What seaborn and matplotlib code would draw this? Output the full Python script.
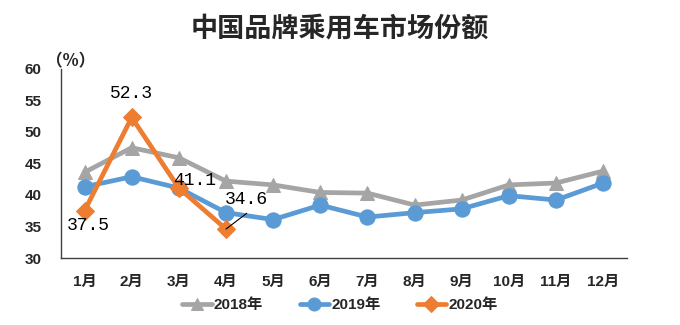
import matplotlib
matplotlib.use("Agg")
import matplotlib.pyplot as plt
import seaborn as sns
import pandas as pd

months = ["1月", "2月", "3月", "4月", "5月", "6月", "7月", "8月", "9月", "10月", "11月", "12月"]
share_2018 = [43.6, 47.5, 45.9, 42.2, 41.6, 40.4, 40.3, 38.4, 39.2, 41.6, 41.9, 43.8]
share_2019 = [41.3, 42.9, 41.1, 37.2, 36.1, 38.4, 36.5, 37.2, 37.8, 39.9, 39.2, 41.9]
share_2020 = [37.5, 52.3, 41.1, 34.6]
series_names = ["2018年", "2019年", "2020年"]
yticks = [30, 35, 40, 45, 50, 55, 60]

sns.set_theme(style="white")
plt.rcParams["font.family"] = ["Liberation Sans", "Noto Sans CJK SC", "DejaVu Sans"]

rows = []
for name, vals in zip(series_names, [share_2018, share_2019, share_2020]):
    for m, v in zip(months, vals):
        rows.append({"月份": m, "份额": v, "年份": name})
df = pd.DataFrame(rows)
df["月份"] = pd.Categorical(df["月份"], categories=months, ordered=True)
df["x"] = df["月份"].cat.codes

fig = plt.figure(figsize=(6.8, 3.25), dpi=100)
ax = fig.add_axes([0.0897, 0.206, 0.832, 0.582])

palette = {"2018年": "#A5A5A5", "2019年": "#5B9BD5", "2020年": "#ED7D31"}
markers = {"2018年": "^", "2019年": "o", "2020年": "D"}
sizes = {"2018年": 10.5, "2019年": 11, "2020年": 9}

for name in series_names:
    sub = df[df["年份"] == name]
    sns.lineplot(data=sub, x="x", y="份额", ax=ax, color=palette[name],
                 marker=markers[name], markersize=sizes[name],
                 markeredgecolor=palette[name], linewidth=3.4, label=name,
                 zorder=3 + series_names.index(name))

ax.set_xlim(-0.5, len(months) - 0.5)
ax.set_ylim(30, 60)
ax.set_xticks(range(len(months)))
ax.set_xticklabels(months)
ax.set_yticks(yticks)
ax.set_xlabel("")
ax.set_ylabel("")
ax.tick_params(axis="both", length=0, labelsize=11)
ax.tick_params(axis="y", pad=14)
ax.tick_params(axis="x", pad=12)
for lab in ax.get_xticklabels() + ax.get_yticklabels():
    lab.set_fontweight("bold")
for s in ["top", "right"]:
    ax.spines[s].set_visible(False)
for s in ["left", "bottom"]:
    ax.spines[s].set_color("#404040")
    ax.spines[s].set_linewidth(1.0)

# data labels for 2020 (offsets in points)
lab_font = dict(family=["Liberation Mono", "DejaVu Sans Mono"], fontsize=13, color="black")
offsets = [(3, -10.5), (0, 17.5), (11.5, 5.8), (15, 21)]
for i, v in enumerate(share_2020):
    dx, dy = offsets[i]
    ax.annotate(f"{v}", xy=(i, v), xytext=(dx, dy), textcoords="offset points",
                ha="center", va="center", zorder=10, **lab_font)
ax.annotate("", xy=(3, share_2020[3]), xytext=(3.44, 37.1),
            arrowprops=dict(arrowstyle="-", color="black", lw=0.8,
                            shrinkA=0, shrinkB=0), zorder=9)

fig.text(0.104, 0.81, "（%）", ha="center", va="center", fontsize=12, fontweight="bold",
         family=["Noto Sans CJK SC", "DejaVu Sans"])

fig.suptitle("中国品牌乘用车市场份额", x=0.5, y=0.955, fontsize=19.5, fontweight="bold",
             family=["Noto Sans CJK SC", "DejaVu Sans"])

handles, labels = ax.get_legend_handles_labels()
if ax.legend_:
    ax.legend_.remove()
fig.legend(handles, labels, loc="center", bbox_to_anchor=(0.5, 0.06), ncol=3,
           frameon=False, handlelength=1.9, columnspacing=2.4, handletextpad=0.15,
           markerscale=0.85,
           prop={"family": ["Liberation Sans", "Noto Sans CJK SC"], "weight": "bold", "size": 11})

fig.savefig("out.png", dpi=100)
